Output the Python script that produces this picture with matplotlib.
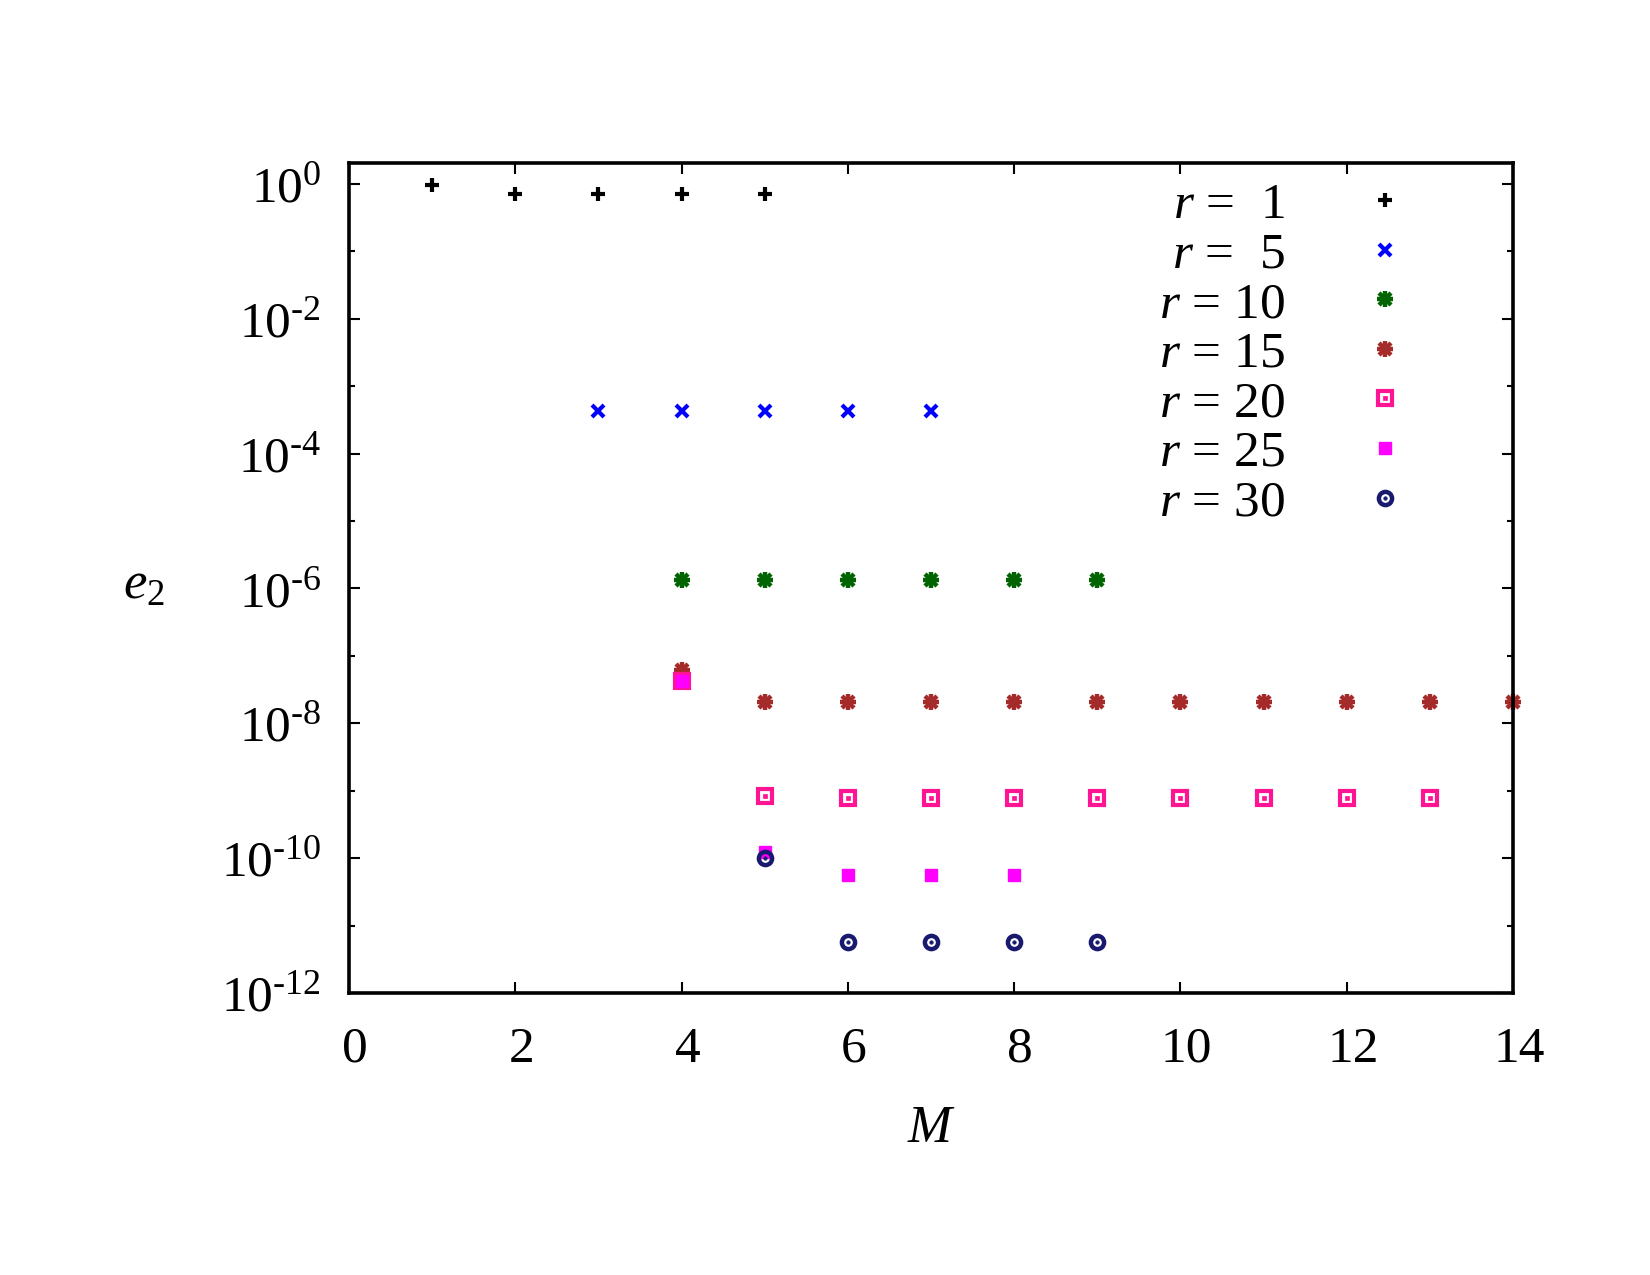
import numpy as np
import matplotlib
matplotlib.use("Agg")
import matplotlib.pyplot as plt
from matplotlib.transforms import ScaledTranslation
from matplotlib.ticker import FixedLocator, FuncFormatter, NullFormatter

plt.rcParams["font.family"] = ["Liberation Serif", "DejaVu Serif"]
plt.rcParams["mathtext.fontset"] = "custom"
plt.rcParams["mathtext.rm"] = "Liberation Serif"
plt.rcParams["mathtext.it"] = "Liberation Serif:italic"

# ===== datos =====
M_r1 = [1, 2, 3, 4, 5]
e_r1 = [0.96, 0.72, 0.72, 0.72, 0.72]

M_r5 = [3, 4, 5, 6, 7]
e_r5 = [4.3e-4, 4.3e-4, 4.3e-4, 4.3e-4, 4.3e-4]

M_r10 = [4, 5, 6, 7, 8, 9]
e_r10 = [1.35e-6] * 6

M_r15 = [4, 5, 6, 7, 8, 9, 10, 11, 12, 13, 14]
e_r15 = [6.2e-8] + [2.1e-8] * 10

M_r20 = [4, 5, 6, 7, 8, 9, 10, 11, 12, 13]
e_r20 = [4.2e-8, 8.3e-10] + [7.7e-10] * 8

M_r25 = [4, 5, 6, 7, 8]
e_r25 = [4.2e-8, 1.23e-10, 5.6e-11, 5.6e-11, 5.6e-11]

M_r30 = [5, 6, 7, 8, 9]
e_r30 = [1.0e-10, 5.8e-12, 5.8e-12, 5.8e-12, 5.8e-12]

labels = ["$r$ =  1", "$r$ =  5", "$r$ = 10", "$r$ = 15",
          "$r$ = 20", "$r$ = 25", "$r$ = 30"]

c_r1, c_r5, c_r10, c_r15 = "black", "#0000ff", "#006400", "#a52a2a"
c_r20, c_r25, c_r30 = "#ff1493", "#ff00ff", "#191970"


def fmt_pow(v, pos):
    k = int(round(np.log10(v)))
    if k < 0:
        return r"$10^{\text{-%d}}$" % -k
    return r"$10^{%d}$" % k


fig = plt.figure(figsize=(16.5, 12.75), dpi=100)
ax = fig.add_axes([0.2115, 0.2212, 0.7055, 0.651])

kw = dict(ls="none", clip_on=False)
h1, = ax.plot(M_r1, e_r1, "+", color=c_r1, ms=10, mew=3, **kw)
h5, = ax.plot(M_r5, e_r5, "x", color=c_r5, ms=9, mew=3, **kw)
# estrella = + superpuesto con x
h10a, = ax.plot(M_r10, e_r10, "+", color=c_r10, ms=11, mew=3.2, **kw)
h10b, = ax.plot(M_r10, e_r10, "x", color=c_r10, ms=8, mew=3.2, **kw)
h15a, = ax.plot(M_r15, e_r15, "+", color=c_r15, ms=11, mew=3.2, **kw)
h15b, = ax.plot(M_r15, e_r15, "x", color=c_r15, ms=8, mew=3.2, **kw)
h20a, = ax.plot(M_r20, e_r20, "s", color=c_r20, mfc="none", ms=9.5, mew=3, **kw)
h20b, = ax.plot(M_r20, e_r20, "s", color=c_r20, ms=2.2, mew=0.5, **kw)
h25, = ax.plot(M_r25, e_r25, "s", color=c_r25, ms=8.5, mew=1, **kw)
h30a, = ax.plot(M_r30, e_r30, "o", color=c_r30, mfc="none", ms=9.5, mew=3.2, **kw)
h30b, = ax.plot(M_r30, e_r30, "o", color=c_r30, ms=2.5, mew=0.5, **kw)

ax.set_yscale("log")
ax.set_xlim(0, 14)
ax.set_ylim(1e-12, 2.05)

ax.set_xticks(np.arange(0, 15, 2))
ax.yaxis.set_major_locator(FixedLocator([10.0**k for k in range(-12, 1, 2)]))
ax.yaxis.set_major_formatter(FuncFormatter(fmt_pow))
ax.yaxis.set_minor_locator(FixedLocator([10.0**k for k in range(-11, 0, 2)]))
ax.yaxis.set_minor_formatter(NullFormatter())

ax.tick_params(which="both", direction="in", top=True, right=True,
               labelsize=37, width=1.5)
ax.tick_params(axis="x", pad=24)
ax.tick_params(axis="y", pad=20)
ax.tick_params(which="major", length=8)
ax.tick_params(which="minor", length=4)
for sp in ax.spines.values():
    sp.set_linewidth(2.6)

# gnuplot deja las etiquetas del eje x un poco a la derecha
shift = ScaledTranslation(0.06, 0, fig.dpi_scale_trans)
for lab in ax.get_xticklabels():
    lab.set_transform(lab.get_transform() + shift)

ax.set_xlabel("$M$", fontsize=38)
ax.xaxis.set_label_coords(0.5, -0.135)
ax.set_ylabel("$e_2$", fontsize=38, rotation=0, va="center", ha="center")
ax.yaxis.set_label_coords(-0.176, 0.49)

leg = ax.legend([h1, h5, (h10a, h10b), (h15a, h15b), (h20a, h20b), h25, (h30a, h30b)],
                labels, loc="upper right", bbox_to_anchor=(0.943, 1.02),
                frameon=False, markerfirst=False, fontsize=37,
                handlelength=1.0, handletextpad=1.45, labelspacing=0.05,
                borderpad=0.2)
for t in leg.get_texts():
    t.set_ha("right")

fig.savefig("out.png", dpi=100)
